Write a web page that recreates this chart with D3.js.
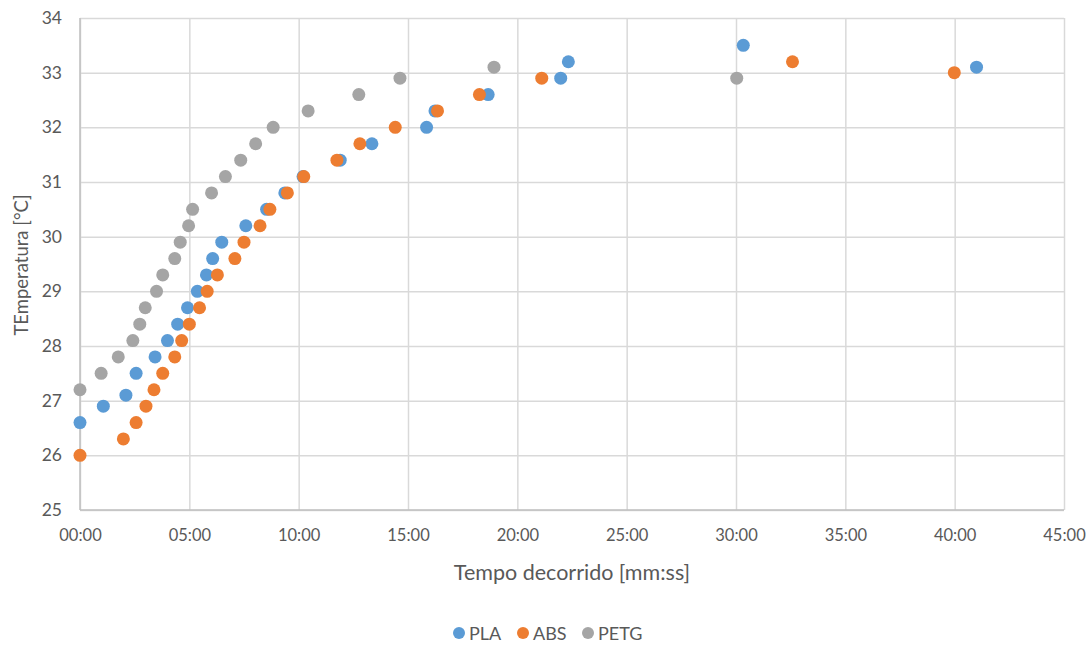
<!DOCTYPE html>
<html>
<head>
<meta charset="utf-8">
<script src="https://cdn.jsdelivr.net/npm/d3@7"></script>
<style>
  html, body { margin: 0; padding: 0; background: #fff; }
  svg { display: block; font-family: Lato, "Open Sans", "Liberation Sans", sans-serif; }
</style>
</head>
<body>
<svg id="chart" width="1092" height="645"></svg>
<script>
// Elapsed time (mm:ss) and temperature (°C) readings for each filament
const plaTime = ["00:00","01:04","02:06","02:34","03:26","04:00","04:28","04:55","05:22","05:47","06:04","06:29","07:35","08:32","09:22","10:12","11:54","13:21","15:51","16:14","18:40","21:59","22:20","30:20","41:00"];
const plaTemp = [26.6,26.9,27.1,27.5,27.8,28.1,28.4,28.7,29.0,29.3,29.6,29.9,30.2,30.5,30.8,31.1,31.4,31.7,32.0,32.3,32.6,32.9,33.2,33.5,33.1];

const absTime = ["00:00","01:59","02:34","03:01","03:23","03:47","04:20","04:39","05:00","05:28","05:49","06:17","07:05","07:30","08:14","08:41","09:29","10:14","11:45","12:48","14:25","16:21","18:16","21:07","32:35","39:59"];
const absTemp = [26.0,26.3,26.6,26.9,27.2,27.5,27.8,28.1,28.4,28.7,29.0,29.3,29.6,29.9,30.2,30.5,30.8,31.1,31.4,31.7,32.0,32.3,32.6,32.9,33.2,33.0];

const petgTime = ["00:00","00:58","01:45","02:25","02:44","02:59","03:30","03:47","04:20","04:35","04:58","05:09","06:01","06:39","07:21","08:02","08:50","10:26","12:45","14:38","18:56","30:02"];
const petgTemp = [27.2,27.5,27.8,28.1,28.4,28.7,29.0,29.3,29.6,29.9,30.2,30.5,30.8,31.1,31.4,31.7,32.0,32.3,32.6,32.9,33.1,32.9];

const seriesNames = ["PLA", "ABS", "PETG"];
const seriesColors = ["#5b9bd5", "#ed7d31", "#a5a5a5"];

const xTicks = ["00:00","05:00","10:00","15:00","20:00","25:00","30:00","35:00","40:00","45:00"];
const yTicks = [25, 26, 27, 28, 29, 30, 31, 32, 33, 34];

// mm:ss -> minutes
const toMin = s => { const [m, sec] = s.split(":").map(Number); return m + sec / 60; };
const fmtMin = v => { const m = Math.floor(v); const s = Math.round((v - m) * 60); return String(m).padStart(2, "0") + ":" + String(s).padStart(2, "0"); };

const series = [
  { name: seriesNames[0], color: seriesColors[0], pts: plaTime.map((t, i) => ({ x: toMin(t), y: plaTemp[i] })) },
  { name: seriesNames[1], color: seriesColors[1], pts: absTime.map((t, i) => ({ x: toMin(t), y: absTemp[i] })) },
  { name: seriesNames[2], color: seriesColors[2], pts: petgTime.map((t, i) => ({ x: toMin(t), y: petgTemp[i] })) }
];

const svg = d3.select("#chart");
const margin = { left: 80, top: 18, right: 1092 - 1064, bottom: 645 - 510 };
const W = 1092 - margin.left - margin.right;
const H = 645 - margin.top - margin.bottom;

const x = d3.scaleLinear().domain([0, 45]).range([0, W]);
const y = d3.scaleLinear().domain([25, 34]).range([H, 0]);

const g = svg.append("g").attr("transform", `translate(${margin.left},${margin.top})`);

const gridColor = "#d9d9d9";
const textColor = "#595959";

// Vertical grid lines
g.append("g")
  .attr("transform", `translate(0,${H})`)
  .call(d3.axisBottom(x).tickValues(xTicks.map(toMin)).tickSize(-H).tickFormat(""))
  .call(a => a.select(".domain").remove())
  .call(a => a.selectAll("line").attr("stroke", gridColor).attr("stroke-width", 1.5));

// Horizontal grid lines
g.append("g")
  .call(d3.axisLeft(y).tickValues(yTicks).tickSize(-W).tickFormat(""))
  .call(a => a.select(".domain").remove())
  .call(a => a.selectAll("line").attr("stroke", gridColor).attr("stroke-width", 1.5));

// Axis lines
g.append("line").attr("x1", 0).attr("x2", 0).attr("y1", 0).attr("y2", H)
  .attr("stroke", "#bfbfbf").attr("stroke-width", 1.5);
g.append("line").attr("x1", 0).attr("x2", W).attr("y1", H).attr("y2", H)
  .attr("stroke", "#bfbfbf").attr("stroke-width", 1.5);

// Tick labels
const xAxis = g.append("g")
  .attr("transform", `translate(0,${H})`)
  .call(d3.axisBottom(x).tickValues(xTicks.map(toMin)).tickSize(0).tickPadding(19).tickFormat(fmtMin));
xAxis.select(".domain").remove();
xAxis.selectAll("text").attr("fill", textColor).style("font-size", "16.5px")
  .style("font-family", "Lato, 'Open Sans', sans-serif");

const yAxis = g.append("g")
  .call(d3.axisLeft(y).tickValues(yTicks).tickSize(0).tickPadding(18).tickFormat(d3.format("d")));
yAxis.select(".domain").remove();
yAxis.selectAll("text").attr("fill", textColor).style("font-size", "17.5px")
  .style("font-family", "Lato, 'Open Sans', sans-serif");

// Points
series.forEach(s => {
  g.append("g").selectAll("circle")
    .data(s.pts)
    .join("circle")
    .attr("cx", d => x(d.x))
    .attr("cy", d => y(d.y))
    .attr("r", 6.5)
    .attr("fill", s.color);
});

// Axis titles
svg.append("text")
  .attr("x", 572)
  .attr("y", 580)
  .attr("text-anchor", "middle")
  .attr("fill", textColor)
  .style("font-size", "21.5px")
  .text("Tempo decorrido [mm:ss]");

svg.append("text")
  .attr("transform", `translate(28,265) rotate(-90)`)
  .attr("text-anchor", "middle")
  .attr("fill", textColor)
  .style("font-size", "18.5px")
  .text("TEmperatura [°C]");

// Legend
const legendX = [459, 523, 588];
const legend = svg.append("g");
series.forEach((s, i) => {
  legend.append("circle").attr("cx", legendX[i]).attr("cy", 633).attr("r", 6).attr("fill", s.color);
  legend.append("text").attr("x", legendX[i] + 10).attr("y", 639.5)
    .attr("fill", textColor).style("font-size", "18px").text(s.name);
});
</script>
</body>
</html>
